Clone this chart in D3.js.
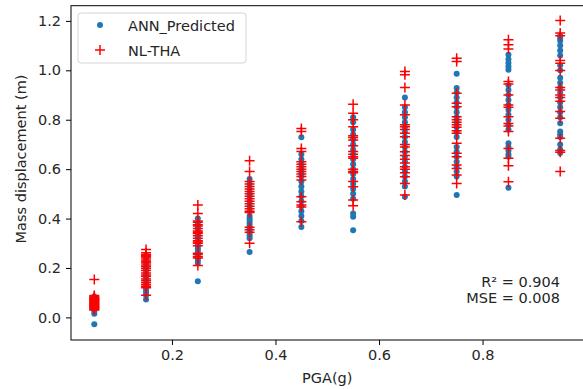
<!DOCTYPE html>
<html>
<head>
<meta charset="utf-8">
<script src="https://cdn.jsdelivr.net/npm/d3@7/dist/d3.min.js"></script>
<style>
  body { margin: 0; background: #fff; }
  svg text { font-family: "DejaVu Sans", sans-serif; fill: #262626; }
</style>
</head>
<body>
<div id="chart"></div>
<script>
// PGA levels (g)
var pga = [0.05, 0.15, 0.25, 0.35, 0.45, 0.55, 0.65, 0.75, 0.85, 0.95];

// ANN predicted mass displacement (m), one list per PGA level
var annPredicted = [
    [0.085, 0.08, 0.075, 0.07, 0.065, 0.06, 0.055, 0.05, 0.045, 0.04, 0.035, 0.025, 0.015, -0.028],
    [0.25, 0.24, 0.23, 0.22, 0.21, 0.2, 0.19, 0.18, 0.17, 0.16, 0.15, 0.14, 0.13, 0.12, 0.11, 0.1, 0.09, 0.072],
    [0.4, 0.38, 0.37, 0.36, 0.35, 0.34, 0.33, 0.32, 0.31, 0.3, 0.29, 0.28, 0.27, 0.26, 0.25, 0.24, 0.23, 0.22, 0.146],
    [0.56, 0.54, 0.52, 0.5, 0.49, 0.47, 0.45, 0.43, 0.41, 0.4, 0.39, 0.38, 0.37, 0.36, 0.35, 0.34, 0.33, 0.32, 0.265],
    [0.729, 0.66, 0.64, 0.62, 0.6, 0.585, 0.57, 0.55, 0.53, 0.51, 0.49, 0.47, 0.45, 0.43, 0.41, 0.39, 0.366],
    [0.81, 0.79, 0.76, 0.74, 0.72, 0.7, 0.68, 0.66, 0.64, 0.62, 0.6, 0.58, 0.56, 0.54, 0.52, 0.5, 0.48, 0.42, 0.407, 0.353],
    [0.89, 0.85, 0.83, 0.81, 0.79, 0.77, 0.75, 0.73, 0.71, 0.69, 0.67, 0.65, 0.63, 0.61, 0.59, 0.57, 0.55, 0.53, 0.488],
    [0.986, 0.928, 0.91, 0.89, 0.87, 0.85, 0.83, 0.81, 0.79, 0.77, 0.75, 0.73, 0.69, 0.67, 0.65, 0.63, 0.61, 0.59, 0.57, 0.495],
    [1.063, 1.045, 1.03, 1.015, 1.002, 0.94, 0.92, 0.9, 0.88, 0.86, 0.84, 0.82, 0.8, 0.78, 0.76, 0.705, 0.69, 0.675, 0.66, 0.65, 0.525],
    [1.14, 1.13, 1.12, 1.1, 1.08, 1.06, 1.02, 1.0, 0.97, 0.95, 0.93, 0.91, 0.89, 0.87, 0.85, 0.83, 0.81, 0.786, 0.752, 0.74, 0.73, 0.7, 0.68, 0.665]
];

// NL-THA mass displacement (m), one list per PGA level
var nlTha = [
    [0.153, 0.089, 0.085, 0.08, 0.078, 0.075, 0.072, 0.07, 0.068, 0.065, 0.062, 0.06, 0.058, 0.055, 0.052, 0.05, 0.048, 0.045, 0.042, 0.04, 0.038, 0.035, 0.032, 0.03],
    [0.275, 0.262, 0.255, 0.25, 0.245, 0.24, 0.232, 0.225, 0.22, 0.212, 0.205, 0.198, 0.19, 0.18, 0.172, 0.165, 0.155, 0.148, 0.14, 0.132, 0.125, 0.12, 0.09],
    [0.455, 0.42, 0.39, 0.385, 0.375, 0.37, 0.36, 0.35, 0.345, 0.34, 0.33, 0.32, 0.31, 0.305, 0.3, 0.29, 0.26, 0.255, 0.245, 0.24, 0.21],
    [0.634, 0.59, 0.55, 0.54, 0.53, 0.52, 0.51, 0.5, 0.49, 0.48, 0.47, 0.46, 0.45, 0.44, 0.43, 0.425, 0.365, 0.355, 0.345, 0.3],
    [0.765, 0.752, 0.684, 0.671, 0.63, 0.62, 0.61, 0.6, 0.59, 0.58, 0.57, 0.556, 0.488, 0.468, 0.455, 0.447, 0.387],
    [0.863, 0.826, 0.8, 0.772, 0.735, 0.728, 0.718, 0.695, 0.671, 0.66, 0.65, 0.644, 0.6, 0.59, 0.585, 0.55, 0.529, 0.475, 0.452],
    [0.995, 0.982, 0.93, 0.86, 0.82, 0.78, 0.772, 0.76, 0.745, 0.731, 0.7, 0.69, 0.67, 0.655, 0.64, 0.625, 0.61, 0.6, 0.585, 0.569, 0.542, 0.495],
    [1.049, 1.036, 0.907, 0.867, 0.853, 0.812, 0.8, 0.79, 0.78, 0.77, 0.755, 0.745, 0.705, 0.664, 0.65, 0.617, 0.603, 0.576, 0.542],
    [1.124, 1.103, 1.086, 0.955, 0.945, 0.9, 0.86, 0.85, 0.812, 0.785, 0.775, 0.752, 0.684, 0.644, 0.614, 0.549],
    [1.202, 1.151, 1.14, 1.04, 1.029, 0.999, 0.93, 0.92, 0.9, 0.89, 0.875, 0.833, 0.806, 0.725, 0.675, 0.668, 0.59]
];

var xTicks = [0.2, 0.4, 0.6, 0.8];
var yTicks = [0.0, 0.2, 0.4, 0.6, 0.8, 1.0, 1.2];
var statLines = ["R\u00b2 = 0.904", "MSE = 0.008"];

function flatten(lists) {
    var out = [];
    lists.forEach(function (vals, i) {
        vals.forEach(function (v) { out.push({ x: pga[i], y: v }); });
    });
    return out;
}

var width = 583, height = 389;
var plotLeft = 71, plotRight = 583.5, plotTop = 5.7, plotBottom = 340;

var svg = d3.select("#chart").append("svg")
    .attr("width", width)
    .attr("height", height);

var xScale = d3.scaleLinear().domain([0.005, 0.995]).range([plotLeft, plotRight]);
var yScale = d3.scaleLinear().domain([-0.0915, 1.2615]).range([plotBottom, plotTop]);

// points
svg.append("g").selectAll("circle")
    .data(flatten(annPredicted))
    .enter().append("circle")
    .attr("cx", function (d) { return xScale(d.x); })
    .attr("cy", function (d) { return yScale(d.y); })
    .attr("r", 3)
    .style("fill", "#1f77b4");

var cs = 5;
svg.append("g").selectAll("path")
    .data(flatten(nlTha))
    .enter().append("path")
    .attr("d", function (d) {
        var cx = xScale(d.x), cy = yScale(d.y);
        return "M" + (cx - cs) + "," + cy + "H" + (cx + cs) +
            "M" + cx + "," + (cy - cs) + "V" + (cy + cs);
    })
    .style("stroke", "red")
    .style("stroke-width", 1.5)
    .style("fill", "none");

// axes
var xAxis = d3.axisBottom(xScale).tickValues(xTicks).tickSize(5).tickPadding(5).tickFormat(d3.format(".1f"));
var yAxis = d3.axisLeft(yScale).tickValues(yTicks).tickSize(5).tickPadding(5).tickFormat(d3.format(".1f"));

var gx = svg.append("g")
    .attr("transform", "translate(0," + plotBottom + ")")
    .call(xAxis);
var gy = svg.append("g")
    .attr("transform", "translate(" + plotLeft + ",0)")
    .call(yAxis);

[gx, gy].forEach(function (g) {
    g.select(".domain").remove();
    g.selectAll("line").style("stroke", "#000").style("stroke-width", 1);
    g.selectAll("text").style("font-size", "14.5px").style("fill", "#262626")
        .style("font-family", "DejaVu Sans, sans-serif");
});

// frame
svg.append("rect")
    .attr("x", plotLeft).attr("y", plotTop)
    .attr("width", plotRight - plotLeft).attr("height", plotBottom - plotTop)
    .style("fill", "none").style("stroke", "#000").style("stroke-width", 1);

// axis labels
svg.append("text")
    .attr("x", (plotLeft + plotRight) / 2).attr("y", 383)
    .attr("text-anchor", "middle")
    .style("font-size", "14.5px")
    .text("PGA(g)");

svg.append("text")
    .attr("transform", "translate(26,159) rotate(-90)")
    .attr("text-anchor", "middle")
    .style("font-size", "14.5px")
    .text("Mass displacement (m)");

// stats
svg.append("g").selectAll("text")
    .data(statLines)
    .enter().append("text")
    .attr("x", 560)
    .attr("y", function (d, i) { return 287 + i * 16; })
    .attr("text-anchor", "end")
    .style("font-size", "14.5px")
    .text(function (d) { return d; });

// legend
var legend = svg.append("g");
legend.append("rect")
    .attr("x", 78).attr("y", 13)
    .attr("width", 168).attr("height", 50)
    .attr("rx", 3)
    .style("fill", "#fff").style("fill-opacity", 0.8)
    .style("stroke", "#d5d5d5").style("stroke-width", 1);
legend.append("circle")
    .attr("cx", 100).attr("cy", 25).attr("r", 3)
    .style("fill", "#1f77b4");
legend.append("path")
    .attr("d", "M95,50H105M100,45V55")
    .style("stroke", "red").style("stroke-width", 1.5);
legend.append("text").attr("x", 128).attr("y", 30.5)
    .style("font-size", "14.5px").text("ANN_Predicted");
legend.append("text").attr("x", 128).attr("y", 55.5)
    .style("font-size", "14.5px").text("NL-THA");
</script>
</body>
</html>
